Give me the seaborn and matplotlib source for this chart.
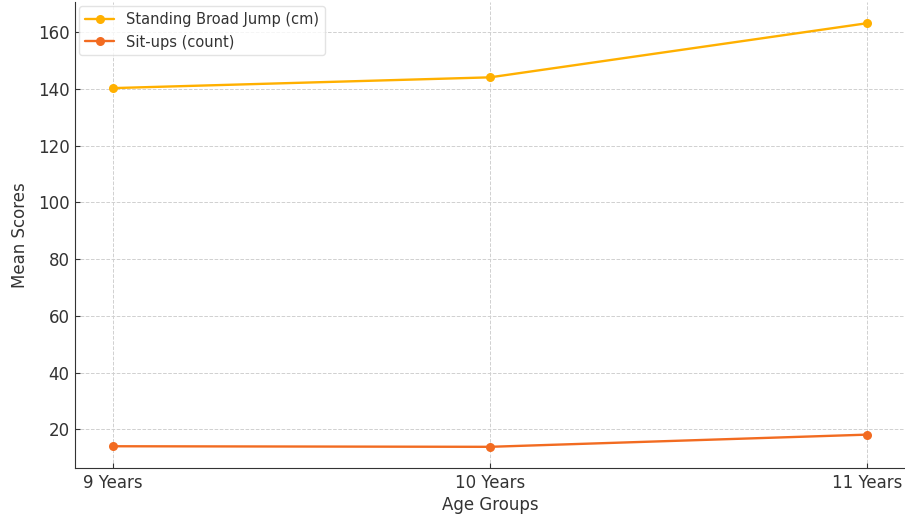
import matplotlib
matplotlib.use("Agg")
import matplotlib.pyplot as plt
import seaborn as sns
import pandas as pd

# 数据
age_groups = ["9 Years", "10 Years", "11 Years"]
broad_jump = [140.3, 144.1, 163.2]
sit_ups = [14.0, 13.8, 18.1]

sns.set_style("ticks")
plt.rcParams['font.family'] = ['DejaVu Sans']
plt.rcParams['text.color'] = '#333333'
plt.rcParams['axes.labelcolor'] = '#333333'
plt.rcParams['xtick.color'] = '#333333'
plt.rcParams['ytick.color'] = '#333333'

df = pd.DataFrame({
    "Age Groups": age_groups * 2,
    "Mean Scores": broad_jump + sit_ups,
    "Metric": ["Standing Broad Jump (cm)"] * 3 + ["Sit-ups (count)"] * 3,
})

fig = plt.figure(figsize=(9.05, 5.14), dpi=100)
ax = fig.add_axes([75 / 905, 46 / 514, 830 / 905, 466 / 514])

sns.lineplot(data=df, x="Age Groups", y="Mean Scores", hue="Metric",
             palette=["#FFB000", "#F26B21"], marker="o", markersize=6.5,
             markeredgewidth=0, linewidth=1.7, ax=ax)

ax.grid(True, linestyle="--", color="#d0d0d0", linewidth=0.7)
ax.set_axisbelow(True)
sns.despine(ax=ax)
ax.spines['left'].set_color('#333333')
ax.spines['bottom'].set_color('#333333')
ax.tick_params(labelsize=12, length=3.5, pad=4, direction="in")
ax.set_xlabel("Age Groups", fontsize=12, labelpad=3)
ax.set_ylabel("Mean Scores", fontsize=12, labelpad=6)
ax.margins(x=0.05, y=0.05)

leg = ax.legend(loc="upper left", fontsize=10.5, frameon=True,
                borderaxespad=0.3)
leg.get_frame().set_edgecolor('#dddddd')

fig.savefig("out.png", dpi=100)
